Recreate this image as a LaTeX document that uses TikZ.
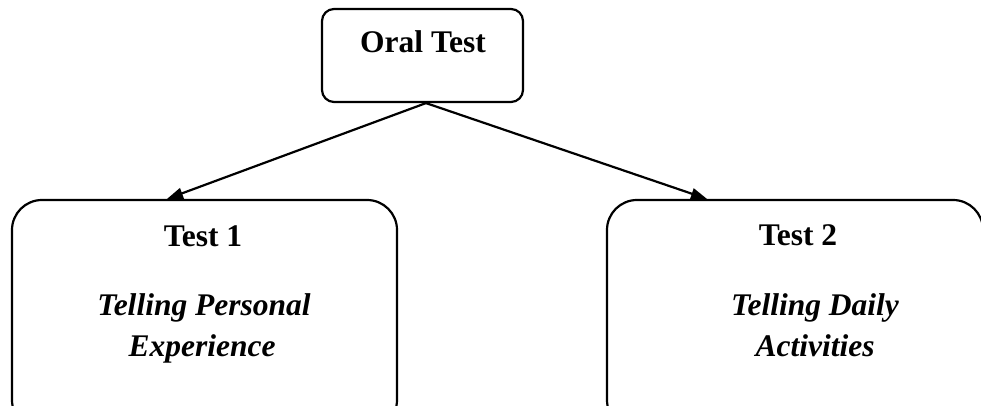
\documentclass[tikz,border=0pt]{standalone}
\usepackage{fontspec}
\setmainfont{Liberation Serif}
\usetikzlibrary{arrows.meta}
\begin{document}
\begin{tikzpicture}[x=1pt,y=1pt,
    box/.style={draw, line width=2.2pt, rectangle},
    label/.style={inner sep=0pt, anchor=base, font=\fontsize{31.5}{41}\selectfont\bfseries},
    desc/.style={label, font=\fontsize{31.5}{41}\selectfont\bfseries\itshape},
    link/.style={line width=2.2pt, -{Triangle[length=16pt,width=11pt]}}]
  \clip (0,0) rectangle (981,406);
  \useasboundingbox (0,0) rectangle (981,406);

  % boxes
  \node[box, rounded corners=12pt, minimum width=201pt, minimum height=93pt] (oral) at (422.5,350.5) {};
  \node[box, rounded corners=30pt, minimum width=385pt, minimum height=230pt] (test1) at (204.5,91) {};
  \node[box, rounded corners=30pt, minimum width=376pt, minimum height=230pt] (test2) at (795,91) {};

  % texts
  \node[label] (oraltxt) at (423,353) {Oral Test};
  \node[label] (t1) at (203,159) {Test 1};
  \node[desc] (t1a) at (204,90) {Telling Personal};
  \node[desc] (t1b) at (202,49) {Experience};
  \node[label] (t2) at (798,160) {Test 2};
  \node[desc] (t2a) at (815,90) {Telling Daily};
  \node[desc] (t2b) at (815,49) {Activities};

  % connectors
  \coordinate (src) at ([xshift=3.5pt]oral.south);
  \coordinate (tip1) at ([xshift=-37.5pt]test1.north);
  \coordinate (tip2) at ([xshift=-88pt]test2.north);
  \draw[link] (src) -- (tip1);
  \draw[link] (src) -- (tip2);
\end{tikzpicture}
\end{document}
